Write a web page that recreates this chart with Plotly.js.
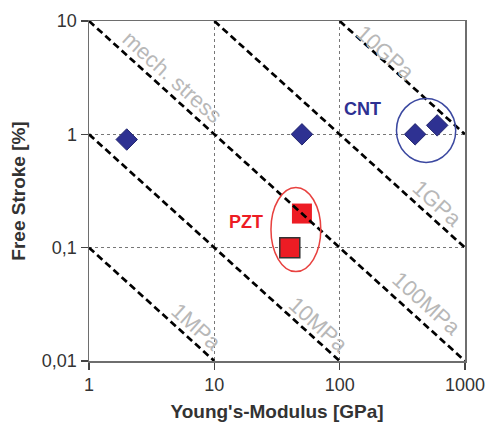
<!DOCTYPE html>
<html>
<head>
<meta charset="utf-8">
<script src="https://cdn.plot.ly/plotly-3.0.1.min.js"></script>
<style>html,body{margin:0;padding:0;background:#fff;}#chart{width:486px;height:424px;}</style>
</head>
<body>
<div id="chart"></div>
<script>
// Data
const otherX = [2, 50];
const otherY = [0.9, 1.0];
const cntX = [400, 600];
const cntY = [1.0, 1.2];
const pztX = [50, 40];
const pztY = [0.2, 0.1];

// Constant-stress lines (stress = modulus x strain), endpoints on the plot frame
const stressLabels = ['1MPa', '10MPa', '100MPa', '1GPa', '10GPa'];
const stressLineX = [[1, 10], [1, 100], [1, 1000], [10, 1000], [100, 1000]];
const stressLineY = [[0.1, 0.01], [1, 0.01], [10, 0.01], [10, 0.1], [10, 1]];

const xTickVals = [1, 10, 100, 1000];
const xTickText = ['1', '10', '100', '1000'];
const yTickVals = [0.01, 0.1, 1, 10];
const yTickText = ['0,01', '0,1', '1', '10'];

const FONT = 'Liberation Sans, Arial, sans-serif';
const NAVY = '#2e3192';
const RED = '#ed1c24';
const GREYTXT = '#b8b8b8';

const traces = [];
traces.push({
  x: otherX.concat(cntX), y: otherY.concat(cntY), type: 'scatter', mode: 'markers',
  marker: {symbol: 'diamond', size: 16.5, color: NAVY, line: {color: '#23276e', width: 1}},
  showlegend: false, hoverinfo: 'skip'
});
traces.push({
  x: pztX, y: pztY, type: 'scatter', mode: 'markers',
  marker: {symbol: 'square', size: 20, color: RED, line: {color: [RED, '#333333'], width: [0, 1.5]}},
  showlegend: false, hoverinfo: 'skip'
});
stressLabels.forEach((lab, i) => {
  traces.push({
    x: stressLineX[i], y: stressLineY[i], type: 'scatter', mode: 'lines', name: lab,
    line: {color: '#000000', width: 2.7, dash: '7px,4px'},
    showlegend: false, hoverinfo: 'skip'
  });
});

// label positions (log10 coordinates, as annotations on log axes require)
const labelPos = {
  '1MPa': [0.852, -1.699], '10MPa': [1.828, -1.681], '100MPa': [2.692, -1.496],
  '1GPa': [2.78, -0.606], '10GPa': [2.364, 0.724]
};

const annotations = stressLabels.map(lab => ({
  x: labelPos[lab][0], y: labelPos[lab][1], xref: 'x', yref: 'y', text: lab,
  showarrow: false, textangle: 42, font: {family: FONT, size: 22, color: GREYTXT}
}));
annotations.push({x: 0.668, y: 0.504, xref: 'x', yref: 'y', text: 'mech. stress',
  showarrow: false, textangle: 42, font: {family: FONT, size: 22, color: GREYTXT}});
annotations.push({x: 2.18, y: 0.226, xref: 'x', yref: 'y', text: '<b>CNT</b>',
  showarrow: false, font: {family: FONT, size: 18, color: NAVY}});
annotations.push({x: 1.252, y: -0.774, xref: 'x', yref: 'y', text: '<b>PZT</b>',
  showarrow: false, font: {family: FONT, size: 18, color: RED}});

const axisCommon = {
  type: 'log', showline: true, mirror: true, linecolor: '#6e6e6e', linewidth: 1.5,
  ticks: 'outside', ticklen: 7, tickcolor: '#444', tickwidth: 1.2,
  showgrid: true, gridcolor: '#777', griddash: 'dot', gridwidth: 1,
  zeroline: false, tickfont: {family: FONT, size: 18, color: '#333'}, tickmode: 'array'
};

const layout = {
  width: 486, height: 424,
  margin: {l: 89, r: 21, t: 21, b: 63},
  paper_bgcolor: '#fff', plot_bgcolor: '#fff',
  xaxis: Object.assign({}, axisCommon, {
    range: [0, 3], tickvals: xTickVals, ticktext: xTickText,
    title: {text: '<b>Young\'s-Modulus [GPa]</b>', font: {family: FONT, size: 19, color: '#333'}, standoff: 10}
  }),
  yaxis: Object.assign({}, axisCommon, {
    range: [-2, 1], tickvals: yTickVals, ticktext: yTickText,
    title: {text: '<b>Free Stroke [%]</b>', font: {family: FONT, size: 19, color: '#333'}, standoff: 11}
  }),
  shapes: [
    {type: 'circle', xref: 'x', yref: 'y', x0: 284, x1: 843, y0: 0.565, y1: 2.07,
     line: {color: '#3b48a0', width: 1.5}},
    {type: 'circle', xref: 'x', yref: 'y', x0: 28.3, x1: 70.7, y0: 0.0615, y1: 0.34,
     line: {color: '#e8413f', width: 1.5}}
  ],
  annotations: annotations,
  showlegend: false
};

Plotly.newPlot('chart', traces, layout, {displayModeBar: false, staticPlot: true});
</script>
</body>
</html>
